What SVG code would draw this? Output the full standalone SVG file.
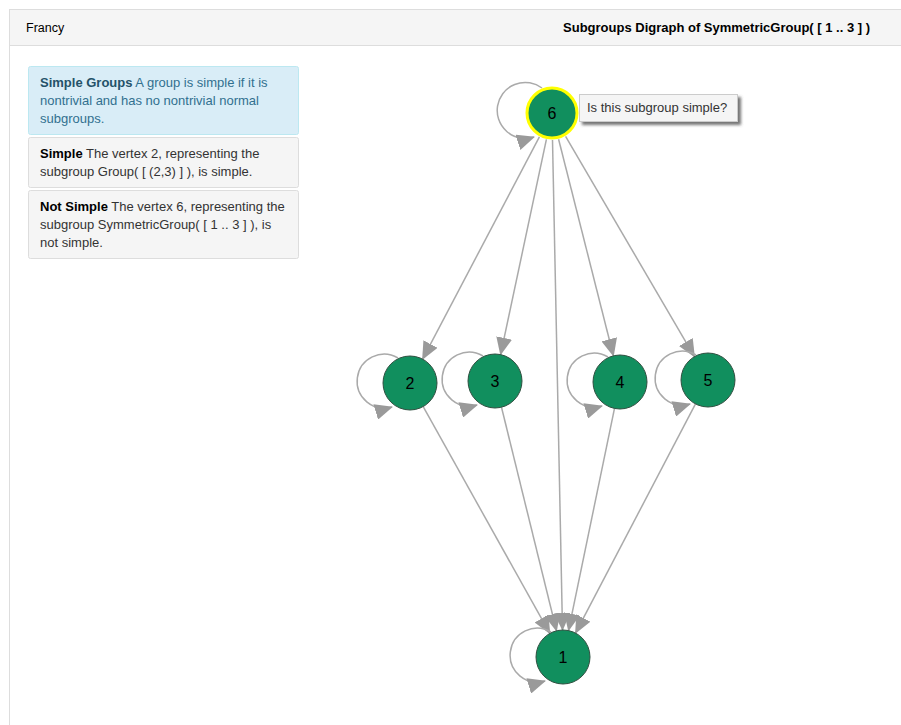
<svg xmlns="http://www.w3.org/2000/svg" width="901" height="725" viewBox="0 0 901 725">
<style>
.t{font-family:"Liberation Sans",Arial,sans-serif;font-size:13px;fill:#333}
.b{font-weight:bold}
.info{fill:#31708f}
.infob{fill:#245269;font-weight:bold}
.edge{fill:none;stroke:#aaa;stroke-width:1.5;marker-end:url(#arr)}
.node{fill:#118f5e;stroke:#2f4f40;stroke-width:1}
.lbl{font-family:"Liberation Sans",Arial,sans-serif;font-size:16px;fill:#000;text-anchor:middle}
</style>
<defs>
<marker id="arr" markerUnits="userSpaceOnUse" markerWidth="18" markerHeight="16" refX="17" refY="8" orient="auto">
<path d="M0,0 L18,8 L0,16 z" fill="#9a9a9a"/>
</marker>
<filter id="sh" x="-10%" y="-20%" width="130%" height="160%">
<feDropShadow dx="3" dy="3" stdDeviation="1.5" flood-color="#555" flood-opacity="0.8"/>
</filter>
</defs>
<rect x="9.5" y="9.5" width="900" height="730" fill="#fff" stroke="#ddd"/>
<rect x="9.5" y="9.5" width="900" height="36" fill="#f5f5f5" stroke="#ddd"/>
<text class="t" x="26" y="32" style="fill:#000;font-size:12.5px">Francy</text>
<text class="t b" x="870" y="32" text-anchor="end" style="fill:#000">Subgroups Digraph of SymmetricGroup( [ 1 .. 3 ] )</text>

<g id="panel-info">
<rect x="28.5" y="66.5" width="270" height="68" rx="2" fill="#d9edf7" stroke="#bce8f1"/>
<text class="t info" x="40" y="87"><tspan class="infob">Simple Groups</tspan> A group is simple if it is</text>
<text class="t info" x="40" y="105">nontrivial and has no nontrivial normal</text>
<text class="t info" x="40" y="123">subgroups.</text>
</g>
<g id="panel-simple">
<rect x="28.5" y="137.5" width="270" height="50" rx="2" fill="#f5f5f5" stroke="#ddd"/>
<text class="t" x="40" y="158"><tspan class="b" style="fill:#000">Simple</tspan> The vertex 2, representing the</text>
<text class="t" x="40" y="176">subgroup Group( [ (2,3) ] ), is simple.</text>
</g>
<g id="panel-notsimple">
<rect x="28.5" y="190.5" width="270" height="68" rx="2" fill="#f5f5f5" stroke="#ddd"/>
<text class="t" x="40" y="211"><tspan class="b" style="fill:#000">Not Simple</tspan> The vertex 6, representing the</text>
<text class="t" x="40" y="229">subgroup SymmetricGroup( [ 1 .. 3 ] ), is</text>
<text class="t" x="40" y="247">not simple.</text>
</g>

<g id="connectors">
<path class="edge" d="M539.4,136.9 L422.6,359.1"/>
<path class="edge" d="M546.4,139.4 L500.6,354.6"/>
<path class="edge" d="M558.6,139.2 L613.4,355.8"/>
<path class="edge" d="M565.6,136.3 L694.4,356.7"/>
<path class="edge" d="M552.5,140 L562.5,630"/>
<path class="edge" d="M423.2,406.6 L549.8,633.4"/>
<path class="edge" d="M501.5,407.2 L556.5,630.8"/>
<path class="edge" d="M614.5,408.4 L568.5,630.6"/>
<path class="edge" d="M695.5,403.9 L575.5,633.1"/>
<path class="edge" d="M542,88 A28 28 0 1 0 534,137"/>
<path class="edge" d="M398,358 A27 27 0 1 0 392,407"/>
<path class="edge" d="M483,356 A27 27 0 1 0 477,405"/>
<path class="edge" d="M608,357 A27 27 0 1 0 602,406"/>
<path class="edge" d="M696,355 A27 27 0 1 0 690,404"/>
<path class="edge" d="M551,632 A27 27 0 1 0 545,681"/>
</g>

<g id="node-6"><circle class="node" cx="552" cy="113" r="25" style="stroke:#ffff00;stroke-width:3"/><text class="lbl" x="552" y="119">6</text></g>
<g id="node-2"><circle class="node" cx="410" cy="383" r="27"/><text class="lbl" x="410" y="389">2</text></g>
<g id="node-3"><circle class="node" cx="495" cy="381" r="27"/><text class="lbl" x="495" y="387">3</text></g>
<g id="node-4"><circle class="node" cx="620" cy="382" r="27"/><text class="lbl" x="620" y="388">4</text></g>
<g id="node-5"><circle class="node" cx="708" cy="380" r="27"/><text class="lbl" x="708" y="386">5</text></g>
<g id="node-1"><circle class="node" cx="563" cy="657" r="27"/><text class="lbl" x="563" y="663">1</text></g>

<g id="tooltip">
<rect x="579.5" y="94.5" width="158" height="27" fill="#f5f5f5" stroke="#ccc" filter="url(#sh)"/>
<text class="t" x="587" y="112">Is this subgroup simple?</text>
</g>
</svg>
